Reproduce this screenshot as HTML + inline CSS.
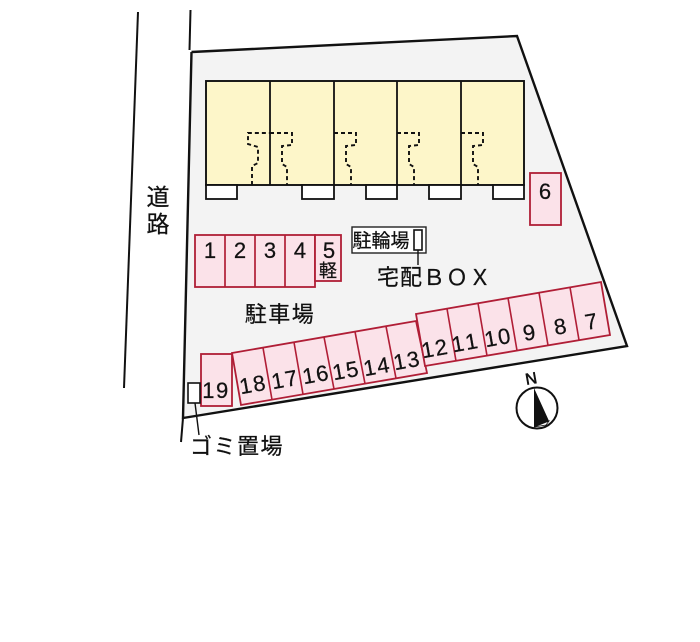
<!DOCTYPE html>
<html><head><meta charset="utf-8">
<style>
html,body{margin:0;padding:0;background:#fff;width:700px;height:642px;overflow:hidden}
svg{display:block}
text{font-family:"Liberation Sans","Noto Sans CJK JP",sans-serif;fill:#111;stroke:#111;stroke-width:.25;text-anchor:middle}
.n{font-size:22px}
.m{font-size:22px;letter-spacing:1.5px}
.s{fill:#fbe2e9;stroke:#b01e36;stroke-width:1.8}
.d{fill:none;stroke:#111;stroke-width:1.9;stroke-dasharray:4 3}
.w{fill:#fff;stroke:#111;stroke-width:1.8}
</style></head><body>
<svg width="700" height="642" viewBox="0 0 700 642" xmlns="http://www.w3.org/2000/svg">
<rect width="700" height="642" fill="#fff"/>
<polygon points="191.500,52 517,36 627,346 183,418" fill="#f3f3f3"/>
<polyline points="191.500,52 517,36 627,346 183,418 191.500,52" fill="none" stroke="#111" stroke-width="2.400"/>
<line x1="190.500" y1="10" x2="189.500" y2="50" stroke="#111" stroke-width="2"/>
<line x1="183" y1="418" x2="181" y2="442" stroke="#111" stroke-width="2"/>
<line x1="138" y1="12" x2="124" y2="388" stroke="#111" stroke-width="2"/>

<rect x="206" y="81" width="318" height="104" fill="#fdf6c9" stroke="#111" stroke-width="1.900"/>
<g stroke="#111" stroke-width="1.800">
<line x1="270" y1="81" x2="270" y2="185"/><line x1="334" y1="81" x2="334" y2="185"/>
<line x1="397" y1="81" x2="397" y2="185"/><line x1="461" y1="81" x2="461" y2="185"/>
</g>
<rect class="w" x="206" y="185" width="31" height="14"/>
<rect class="w" x="302" y="185" width="32" height="14"/>
<rect class="w" x="366" y="185" width="31" height="14"/>
<rect class="w" x="429" y="185" width="32" height="14"/>
<rect class="w" x="493" y="185" width="31" height="14"/>
<path class="d" d="M252,185V166L258,163V147L248,144V133H270"/>
<path class="d" d="M270,133H292V145L282,146V164L287,167V185"/>
<path class="d" d="M334,133H356V145L346,146V164L351,167V185"/>
<path class="d" d="M397,133H419V145L409,146V164L414,167V185"/>
<path class="d" d="M461,133H483V145L473,146V164L478,167V185"/>

<rect class="s" x="195" y="235" width="120" height="52"/>
<g stroke="#b01e36" stroke-width="1.700"><line x1="225" y1="235" x2="225" y2="287"/><line x1="255" y1="235" x2="255" y2="287"/><line x1="285" y1="235" x2="285" y2="287"/></g>
<rect class="s" x="315" y="235" width="26" height="46"/>
<rect class="s" x="530" y="173" width="31" height="52"/>
<rect class="s" x="201" y="354" width="31" height="52"/>

<polygon class="s" points="232,353 416,321 427,373 241,405"/>
<g stroke="#b01e36" stroke-width="1.600">
<line x1="263" y1="347.700" x2="272" y2="399.700"/><line x1="294" y1="342.300" x2="303" y2="394.300"/>
<line x1="324" y1="337" x2="334" y2="389"/><line x1="355" y1="331.700" x2="365" y2="383.700"/>
<line x1="386" y1="326.300" x2="396" y2="378.300"/>
</g>
<polygon class="s" points="416,314 601,282 610,335 425,366"/>
<g stroke="#b01e36" stroke-width="1.600">
<line x1="447" y1="308.700" x2="456" y2="361"/><line x1="478" y1="303.300" x2="487" y2="355.700"/>
<line x1="508" y1="298" x2="517" y2="350.500"/><line x1="539" y1="292.700" x2="548" y2="345.300"/>
<line x1="570" y1="287.300" x2="579" y2="340"/>
</g>

<text class="n" x="210" y="258">1</text>
<text class="n" x="240" y="258">2</text>
<text class="n" x="270" y="258">3</text>
<text class="n" x="300" y="258">4</text>
<text class="n" x="329" y="258">5</text>
<text x="328" y="277" font-size="18">軽</text>
<text class="n" x="545" y="199">6</text>
<text class="n" transform="rotate(-10 591 321)" x="591" y="329">7</text>
<text class="n" transform="rotate(-10 560 326)" x="560" y="334">8</text>
<text class="n" transform="rotate(-10 529 332)" x="529" y="340">9</text>
<text class="m" transform="rotate(-10 498 337)" x="498" y="345">10</text>
<text class="m" transform="rotate(-10 466 342)" x="466" y="350" style="letter-spacing:3px">11</text>
<text class="m" transform="rotate(-10 435 348)" x="435" y="356">12</text>
<text class="m" transform="rotate(-10 407 360)" x="407" y="368">13</text>
<text class="m" transform="rotate(-10 377 366)" x="377" y="374">14</text>
<text class="m" transform="rotate(-10 346 370)" x="346" y="378">15</text>
<text class="m" transform="rotate(-10 316 374)" x="316" y="382">16</text>
<text class="m" transform="rotate(-10 285 379)" x="285" y="387">17</text>
<text class="m" transform="rotate(-10 253 384)" x="253" y="392">18</text>
<text class="m" x="216" y="398">19</text>

<rect x="352" y="227" width="74" height="26" fill="#fff" stroke="#222" stroke-width="1.400"/>
<rect x="414" y="230" width="8" height="20" fill="#fff" stroke="#111" stroke-width="1.600"/>
<line x1="418" y1="250" x2="418" y2="265" stroke="#111" stroke-width="1.400"/>
<text x="381" y="247" font-size="19">駐輪場</text>
<text x="434" y="285" font-size="22" textLength="114" lengthAdjust="spacing">宅配ＢＯＸ</text>
<text x="280" y="322" font-size="22" letter-spacing="1.500">駐車場</text>

<rect x="188" y="383" width="12" height="20" fill="#fff" stroke="#111" stroke-width="1.600"/>
<line x1="195" y1="403" x2="199" y2="435" stroke="#111" stroke-width="1.400"/>
<text x="237" y="454" font-size="22" letter-spacing="1.500">ゴミ置場</text>

<text x="158" y="205" font-size="23">道</text>
<text x="158" y="232" font-size="23">路</text>

<circle cx="537" cy="408" r="20.500" fill="#fff" stroke="#111" stroke-width="2"/>
<polygon points="534,388 549,421 534,427" fill="#111"/>
<polygon points="534,427 549,421 546,425" fill="#fff" stroke="#111" stroke-width=".8"/>
<text transform="rotate(-10 531 378)" x="531" y="384" font-size="16" style="stroke-width:.6">N</text>
</svg>
</body></html>
